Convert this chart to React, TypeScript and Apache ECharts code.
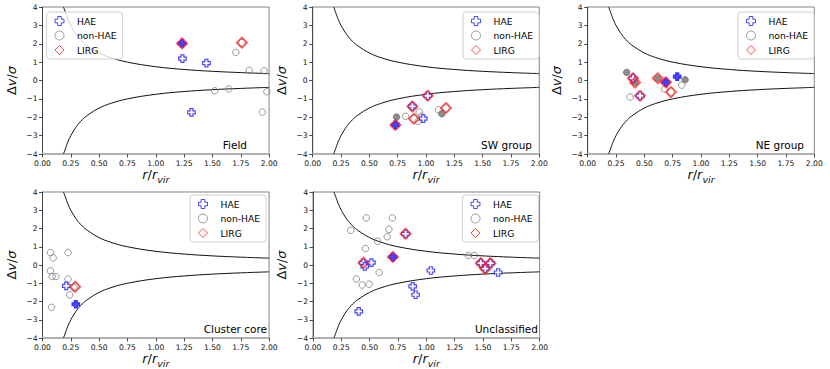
import React, { useEffect, useRef } from "react";
import * as echarts from "echarts";

// ---- data (r/r_vir, Δv/σ) ----
const panelNames = ["Field", "SW group", "NE group", "Cluster core", "Unclassified"];

const fieldHaeOpen = [[1.235, 1.19], [1.447, 0.95], [1.315, -1.73]];
const fieldHaeFilled = [[1.232, 2.02]];
const fieldNonOpen = [[1.76, 2.06], [1.706, 1.53], [1.824, 0.55], [1.956, 0.53], [1.52, -0.56], [1.644, -0.46], [1.98, -0.61], [1.94, -1.72]];
const fieldNonFilled: number[][] = [];
const fieldLirg = [[1.232, 2.02], [1.76, 2.06]];

const swHaeOpen = [[1.015, -0.83], [0.88, -1.41], [0.976, -2.08]];
const swHaeFilled = [[0.73, -2.42]];
const swNonOpen = [[0.82, -1.95], [0.94, -1.72], [0.96, -1.95], [0.93, -2.22], [1.11, -1.59], [0.894, -2.08], [1.176, -1.5]];
const swNonFilled = [[0.74, -1.99], [1.14, -1.81]];
const swLirg = [[1.015, -0.83], [0.88, -1.41], [0.73, -2.42], [0.894, -2.08], [1.176, -1.5]];

const neHaeOpen = [[0.4, 0.12], [0.462, -0.83]];
const neHaeFilled = [[0.69, -0.1], [0.79, 0.21]];
const neNonOpen = [[0.374, -0.9], [0.68, -0.46], [0.735, -0.63], [0.83, -0.25]];
const neNonFilled = [[0.344, 0.44], [0.418, -0.11], [0.618, 0.12], [0.86, 0.04]];
const neLirg = [[0.4, 0.12], [0.418, -0.11], [0.462, -0.83], [0.618, 0.12], [0.69, -0.1], [0.735, -0.63]];

const coreHaeOpen = [[0.21, -1.14]];
const coreHaeFilled = [[0.294, -2.15]];
const coreNonOpen = [[0.07, 0.68], [0.094, 0.39], [0.226, 0.68], [0.07, -0.32], [0.085, -0.63], [0.118, -0.63], [0.226, -0.77], [0.24, -1.64], [0.08, -2.32], [0.276, -1.25], [0.288, -1.19]];
const coreNonFilled: number[][] = [];
const coreLirg = [[0.288, -1.19]];

const uncHaeOpen = [[0.817, 1.71], [0.445, 0.12], [0.457, -0.08], [0.516, 0.13], [1.04, -0.3], [0.88, -1.17], [0.906, -1.63], [0.404, -2.54], [1.481, 0.1], [1.52, -0.2], [1.566, 0.1], [1.634, -0.41]];
const uncHaeFilled = [[0.705, 0.44]];
const uncNonOpen = [[0.333, 1.9], [0.47, 2.58], [0.7, 2.58], [0.67, 1.95], [0.655, 1.55], [0.57, 1.3], [0.463, 0.9], [0.584, -0.41], [0.383, -0.77], [0.434, -1.1], [0.496, -1.05], [1.372, 0.52], [1.423, 0.52]];
const uncNonFilled: number[][] = [];
const uncLirg = [[0.817, 1.71], [0.705, 0.44], [0.445, 0.12], [1.481, 0.1], [1.52, -0.2], [1.566, 0.1]];

// caustic curves
const curveR = [0.185, 0.2, 0.225, 0.25, 0.3, 0.35, 0.4, 0.5, 0.6, 0.75, 1.0, 1.25, 1.5, 1.75, 2.0];
const curveUpper = [4.0, 3.75, 3.33, 3.0, 2.5, 2.14, 1.88, 1.5, 1.25, 1.0, 0.75, 0.6, 0.5, 0.43, 0.375];
const curveLower = [-4.0, -3.75, -3.33, -3.0, -2.5, -2.14, -1.88, -1.5, -1.25, -1.0, -0.75, -0.6, -0.5, -0.43, -0.375];

const xTicks = [0, 0.25, 0.5, 0.75, 1.0, 1.25, 1.5, 1.75, 2.0];
const yTicks = [-4, -3, -2, -1, 0, 1, 2, 3, 4];

const panelData = [
  [fieldHaeOpen, fieldHaeFilled, fieldNonOpen, fieldNonFilled, fieldLirg],
  [swHaeOpen, swHaeFilled, swNonOpen, swNonFilled, swLirg],
  [neHaeOpen, neHaeFilled, neNonOpen, neNonFilled, neLirg],
  [coreHaeOpen, coreHaeFilled, coreNonOpen, coreNonFilled, coreLirg],
  [uncHaeOpen, uncHaeFilled, uncNonOpen, uncNonFilled, uncLirg],
];

// ---- layout ----
const FONT = "DejaVu Sans";
const gridPos = [
  { left: 42.5, top: 7 },
  { left: 312.7, top: 7 },
  { left: 587.7, top: 7 },
  { left: 42.5, top: 192 },
  { left: 313, top: 192 },
];
const GW = 226.6;
const GH = 147;
const legendPos = [
  { left: 46.5, top: 12 },
  { left: 463, top: 12 },
  { left: 738, top: 12 },
  { left: 190, top: 195 },
  { left: 462.5, top: 195 },
];
const labelPos = [
  { x: 247, y: 145 },
  { x: 532, y: 145 },
  { x: 804, y: 145 },
  { x: 267, y: 329 },
  { x: 538, y: 329 },
];

const plusPath = "path://M3,0H7V3H10V7H7V10H3V7H0V3H3Z";
const BLUE = "#1a1aff";
const GRAY = "#808080";
const RED = "#ff2020";

function buildOption() {
  const grids: any[] = [];
  const xAxes: any[] = [];
  const yAxes: any[] = [];
  const series: any[] = [];
  const legends: any[] = [];
  const graphics: any[] = [];

  panelNames.forEach((pname, i) => {
    grids.push({
      left: gridPos[i].left,
      top: gridPos[i].top,
      width: GW,
      height: GH,
      show: true,
      borderColor: "#666",
      borderWidth: 0.8,
      backgroundColor: "transparent",
    });
    xAxes.push({
      type: "value",
      gridIndex: i,
      min: xTicks[0],
      max: xTicks[xTicks.length - 1],
      interval: 0.25,
      splitLine: { show: false },
      axisLine: { show: true, onZero: false, lineStyle: { color: "#b0b0b0", width: 2 } },
      axisTick: { show: true, inside: false, length: 3.5, lineStyle: { color: "#222", width: 0.8 } },
      axisLabel: {
        fontFamily: FONT,
        fontSize: 7.6,
        color: "#111",
        margin: 5,
        formatter: (v: number) => v.toFixed(2),
      },
      name: "{i|r}{n|/}{i|r}{s|vir}",
      nameLocation: "middle",
      nameGap: 14,
      nameTextStyle: {
        fontFamily: FONT,
        rich: {
          i: { fontFamily: FONT, fontStyle: "italic", fontSize: 13, color: "#111", lineHeight: 16, verticalAlign: "top" },
          n: { fontFamily: FONT, fontSize: 13, color: "#111", lineHeight: 16, verticalAlign: "top" },
          s: { fontFamily: FONT, fontStyle: "italic", fontSize: 9.5, color: "#111", lineHeight: 16, verticalAlign: "top", padding: [6, 0, 0, 0] },
        },
      },
    });
    yAxes.push({
      type: "value",
      gridIndex: i,
      min: yTicks[0],
      max: yTicks[yTicks.length - 1],
      interval: 1,
      splitLine: { show: false },
      axisLine: { show: true, onZero: false, lineStyle: { color: "#333", width: 0.8 } },
      axisTick: { show: true, inside: false, length: 3.5, lineStyle: { color: "#222", width: 0.8 } },
      axisLabel: {
        fontFamily: FONT,
        fontSize: 7.6,
        color: "#111",
        margin: 5,
        formatter: (v: number) => (v < 0 ? "\u2212" + Math.abs(v) : String(v)),
      },
      name: "{n|\u0394}{i|v}{n|/}{i|\u03c3}",
      nameLocation: "middle",
      nameGap: 25,
      nameTextStyle: {
        fontFamily: FONT,
        rich: {
          i: { fontFamily: FONT, fontStyle: "italic", fontSize: 13, color: "#111" },
          n: { fontFamily: FONT, fontSize: 13, color: "#111" },
        },
      },
    });

    const [haeOpen, haeFilled, nonOpen, nonFilled, lirg] = panelData[i];

    series.push({
      type: "line",
      name: "caustic-up",
      xAxisIndex: i,
      yAxisIndex: i,
      data: curveR.map((r, k) => [r, curveUpper[k]]),
      smooth: 0.4,
      showSymbol: false,
      symbol: "none",
      lineStyle: { color: "#111", width: 1 },
      z: 1,
      silent: true,
    });
    series.push({
      type: "line",
      name: "caustic-low",
      xAxisIndex: i,
      yAxisIndex: i,
      data: curveR.map((r, k) => [r, curveLower[k]]),
      smooth: 0.4,
      showSymbol: false,
      symbol: "none",
      lineStyle: { color: "#111", width: 1 },
      z: 1,
      silent: true,
    });
    series.push({
      type: "scatter",
      name: "non-HAE",
      xAxisIndex: i,
      yAxisIndex: i,
      data: nonOpen,
      symbol: "circle",
      symbolSize: 6.5,
      itemStyle: { color: "rgba(255,255,255,0)", borderColor: GRAY, borderWidth: 1 },
      z: 2,
    });
    series.push({
      type: "scatter",
      name: "non-HAE (filled)",
      xAxisIndex: i,
      yAxisIndex: i,
      data: nonFilled,
      symbol: "circle",
      symbolSize: 6.5,
      itemStyle: { color: "#707070", borderColor: "#707070", borderWidth: 1 },
      z: 2,
    });
    series.push({
      type: "scatter",
      name: "HAE",
      xAxisIndex: i,
      yAxisIndex: i,
      data: haeOpen,
      symbol: plusPath,
      symbolSize: 7.5,
      itemStyle: { color: "#ffffff", borderColor: BLUE, borderWidth: 1.2 },
      z: 3,
    });
    series.push({
      type: "scatter",
      name: "HAE (filled)",
      xAxisIndex: i,
      yAxisIndex: i,
      data: haeFilled,
      symbol: plusPath,
      symbolSize: 7.5,
      itemStyle: { color: BLUE, borderColor: BLUE, borderWidth: 1.2 },
      z: 3,
    });
    series.push({
      type: "scatter",
      name: "LIRG",
      xAxisIndex: i,
      yAxisIndex: i,
      data: lirg,
      symbol: "diamond",
      symbolSize: 10.5,
      itemStyle: { color: "rgba(255,255,255,0)", borderColor: RED, borderWidth: 1.5 },
      z: 3,
    });

    legends.push({
      show: true,
      left: legendPos[i].left,
      top: legendPos[i].top,
      orient: "vertical",
      itemWidth: 9,
      itemHeight: 9,
      itemGap: 4.5,
      padding: [4, 6, 4, 8],
      borderColor: "#d0d0d0",
      borderWidth: 1,
      borderRadius: 3,
      backgroundColor: "rgba(255,255,255,0.8)",
      selectedMode: false,
      z: 6,
      textStyle: { fontFamily: FONT, fontSize: 9.2, color: "#000", padding: [0, 0, 0, 8] },
      data: [
        { name: "HAE", icon: plusPath, itemStyle: { color: "#ffffff", borderColor: BLUE, borderWidth: 1 } },
        { name: "non-HAE", icon: "circle", itemStyle: { color: "rgba(255,255,255,0)", borderColor: GRAY, borderWidth: 1 } },
        { name: "LIRG", icon: "diamond", itemStyle: { color: "rgba(255,255,255,0)", borderColor: RED, borderWidth: 1 } },
      ],
    });

    graphics.push({
      type: "text",
      x: labelPos[i].x,
      y: labelPos[i].y,
      z: 10,
      style: {
        text: pname,
        fill: "#000",
        font: `10.5px "${FONT}"`,
        fontFamily: FONT,
        fontSize: 10.5,
        align: "right",
        textAlign: "right",
        verticalAlign: "middle",
        textVerticalAlign: "middle",
      },
    });
  });

  return {
    animation: false,
    backgroundColor: "#ffffff",
    textStyle: { fontFamily: FONT },
    grid: grids,
    xAxis: xAxes,
    yAxis: yAxes,
    legend: legends,
    series,
    graphic: graphics,
  };
}

export default function App() {
  const ref = useRef<HTMLDivElement>(null);
  useEffect(() => {
    document.body.style.margin = "0";
    if (!ref.current) return;
    const chart = echarts.init(ref.current, undefined, { renderer: "svg" });
    chart.setOption(buildOption() as any);
    return () => {
      chart.dispose();
    };
  }, []);
  return <div ref={ref} style={{ width: 830, height: 369 }} />;
}
